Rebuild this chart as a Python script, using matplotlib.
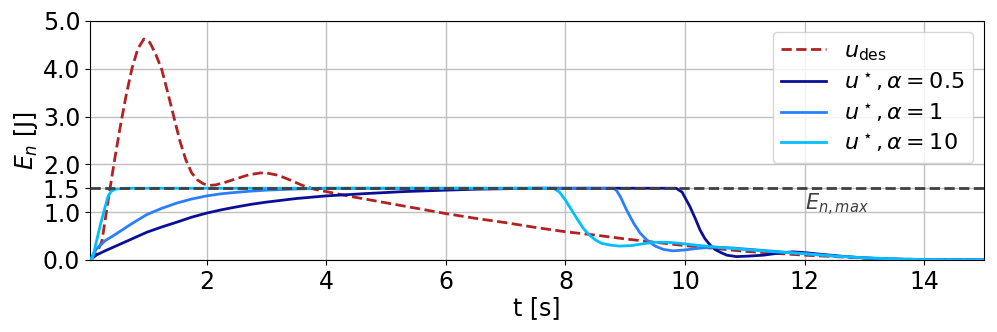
import matplotlib
matplotlib.use("Agg")
import matplotlib.pyplot as plt

# ---- data ----
t_des = [0.05, 0.15, 0.25, 0.36, 0.46, 0.55, 0.65, 0.75, 0.85, 0.95, 1.05, 1.15, 1.25,
         1.35, 1.45, 1.55, 1.65, 1.75, 1.85, 1.95, 2.05, 2.15, 2.3, 2.5, 2.7, 2.9, 3.0,
         3.2, 3.4, 3.6, 3.8, 4.0, 4.4, 4.8, 5.2, 5.6, 6.0, 6.5, 7.0, 7.5, 8.0, 8.5, 9.0,
         9.5, 10.0, 10.5, 11.0, 11.5, 12.0, 12.5, 13.0, 13.5, 14.0, 14.5, 15.0]
E_des = [0.0, 0.1, 0.4, 1.3, 2.09, 2.75, 3.42, 4.0, 4.42, 4.62, 4.55, 4.3, 3.98,
         3.5, 3.0, 2.5, 2.1, 1.82, 1.67, 1.59, 1.56, 1.57, 1.62, 1.7, 1.78, 1.82, 1.82,
         1.77, 1.67, 1.56, 1.48, 1.43, 1.33, 1.24, 1.15, 1.06, 0.97, 0.87, 0.78, 0.68,
         0.59, 0.52, 0.44, 0.37, 0.30, 0.24, 0.18, 0.14, 0.10, 0.07, 0.04, 0.02, 0.01,
         0.0, 0.0]

t_a05 = [0.05, 0.15, 0.3, 0.48, 0.75, 1.0, 1.25, 1.5, 1.75, 2.0, 2.25, 2.5, 2.75, 3.0,
         3.5, 4.0, 4.68, 5.3, 6.0, 6.5, 7.0, 7.5, 9.85, 9.95, 10.08, 10.17, 10.25, 10.33,
         10.42, 10.5, 10.59, 10.7, 10.86, 11.05, 11.31, 11.55, 11.8, 12.03, 12.26, 12.6,
         13.0, 13.5, 14.0, 15.0]
E_a05 = [0.0, 0.10, 0.19, 0.29, 0.44, 0.58, 0.69, 0.79, 0.895, 0.98, 1.05, 1.11, 1.165,
         1.21, 1.285, 1.34, 1.39, 1.43, 1.46, 1.48, 1.49, 1.5, 1.5, 1.42, 1.12, 0.87,
         0.63, 0.45, 0.31, 0.22, 0.16, 0.10, 0.07, 0.08, 0.10, 0.14, 0.17, 0.15, 0.12,
         0.08, 0.04, 0.015, 0.0, 0.0]

t_a1 = [0.05, 0.15, 0.3, 0.48, 0.75, 1.0, 1.25, 1.5, 1.75, 2.0, 2.25, 2.5, 2.75, 3.0,
        3.5, 4.0, 8.8, 8.85, 8.92, 9.02, 9.14, 9.25, 9.36, 9.5, 9.64, 9.8, 10.0, 10.2,
        10.47, 10.8, 11.2, 11.6, 12.0, 12.5, 13.0, 13.5, 14.0, 14.5, 15.0]
E_a1 = [0.0, 0.22, 0.40, 0.54, 0.76, 0.95, 1.08, 1.19, 1.275, 1.34, 1.385, 1.415, 1.44,
        1.46, 1.485, 1.5, 1.5, 1.46, 1.32, 1.05, 0.77, 0.56, 0.42, 0.29, 0.22, 0.19,
        0.21, 0.24, 0.27, 0.25, 0.21, 0.17, 0.13, 0.08, 0.045, 0.02, 0.008, 0.0, 0.0]

t_a10 = [0.05, 0.09, 0.15, 0.23, 0.30, 0.35, 0.40, 0.47, 0.55, 0.7, 7.8, 7.9, 8.0, 8.1,
         8.2, 8.3, 8.4, 8.5, 8.6, 8.75, 8.9, 9.1, 9.3, 9.5, 9.7, 9.9, 10.1, 10.5, 11.0,
         11.5, 12.0, 12.5, 13.0, 13.5, 14.0, 14.5, 15.0]
E_a10 = [0.0, 0.02, 0.35, 0.77, 1.1, 1.33, 1.43, 1.48, 1.49, 1.5, 1.5, 1.42, 1.25, 1.05,
         0.85, 0.66, 0.52, 0.42, 0.35, 0.31, 0.29, 0.30, 0.34, 0.37, 0.37, 0.35, 0.32,
         0.27, 0.22, 0.17, 0.13, 0.08, 0.045, 0.02, 0.008, 0.0, 0.0]

E_max = 1.5
yticks = [0.0, 1.0, 1.5, 2.0, 3.0, 4.0, 5.0]
xticks = [2, 4, 6, 8, 10, 12, 14]

labels = [r"$u_{\rm des}$", r"$u^\star, \alpha = 0.5$", r"$u^\star, \alpha = 1$",
          r"$u^\star, \alpha = 10$"]

# ---- plot ----
fig = plt.figure(figsize=(9.97, 3.32), dpi=100)
ax = fig.add_axes([0.0903, 0.217, 0.8967, 0.72])

ax.plot(t_des, E_des, color="#b22222", ls="--", lw=2, label=labels[0], zorder=2)
ax.plot(t_a05, E_a05, color="#0a0f96", lw=2, label=labels[1], zorder=3)
ax.plot(t_a1, E_a1, color="#2a7fff", lw=2, label=labels[2], zorder=3)
ax.plot(t_a10, E_a10, color="#00bfff", lw=2, label=labels[3], zorder=3)
ax.axhline(E_max, color="#404040", ls="--", lw=2, zorder=4)
ax.text(12.0, 1.03, r"$E_{n,max}$", color="#404040", fontsize=15)

ax.set_xlim(0.05, 15)
ax.set_ylim(0, 5)
ax.set_xticks(xticks)
ax.set_yticks(yticks)
ax.set_yticklabels([f"{v:.1f}" for v in yticks])
ax.tick_params(labelsize=17)
ax.grid(True, color="#c0c0c0", lw=1)
ax.set_axisbelow(True)
ax.set_xlabel("t [s]", fontsize=17, labelpad=2)
ax.set_ylabel(r"$E_n$ [J]", fontsize=17, labelpad=2)
ax.legend(loc="upper right", fontsize=16, handlelength=2.0, labelspacing=0.35)

fig.savefig("out.png", dpi=100)
